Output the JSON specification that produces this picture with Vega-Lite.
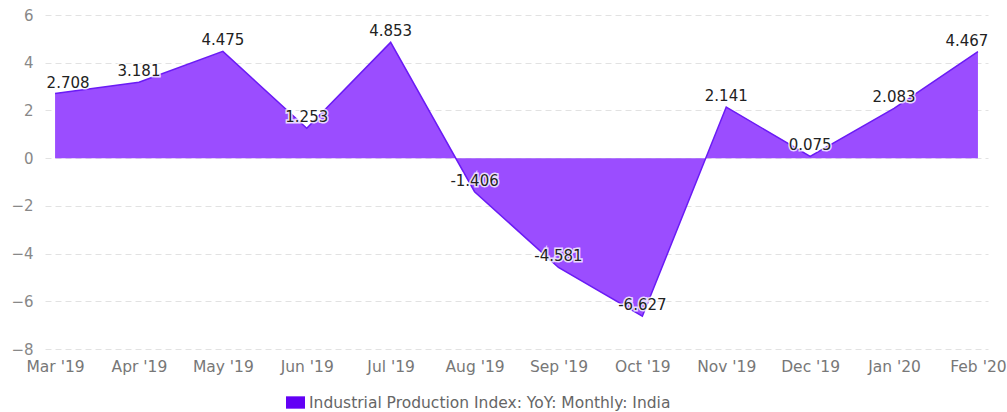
{
  "$schema": "https://vega.github.io/schema/vega-lite/v6.json",
  "width": 943,
  "height": 334,
  "autosize": {"type": "none"},
  "padding": {"left": 45, "top": 15, "right": 19, "bottom": 63},
  "background": "white",
  "config": {"view": {"stroke": null}, "font": "DejaVu Sans"},
  "data": {
    "values": [
      {"month": "Mar '19", "v": 2.708},
      {"month": "Apr '19", "v": 3.181},
      {"month": "May '19", "v": 4.475},
      {"month": "Jun '19", "v": 1.253},
      {"month": "Jul '19", "v": 4.853},
      {"month": "Aug '19", "v": -1.406},
      {"month": "Sep '19", "v": -4.581},
      {"month": "Oct '19", "v": -6.627},
      {"month": "Nov '19", "v": 2.141},
      {"month": "Dec '19", "v": 0.075},
      {"month": "Jan '20", "v": 2.083},
      {"month": "Feb '20", "v": 4.467}
    ]
  },
  "encoding": {
    "x": {
      "field": "month",
      "type": "ordinal",
      "sort": null,
      "scale": {"type": "point", "padding": 0.12},
      "axis": {
        "title": null,
        "labelAngle": 0,
        "domain": false,
        "ticks": false,
        "grid": false,
        "labelColor": "#777777",
        "labelFontSize": 15.5,
        "labelPadding": 10
      }
    }
  },
  "layer": [
    {
      "mark": {"type": "area", "opacity": 1, "fill": "#9b4dff"},
      "encoding": {
        "y": {
          "field": "v",
          "type": "quantitative",
          "scale": {"domain": [-8, 6], "nice": false, "zero": false},
          "axis": {
            "title": null,
            "values": [-8, -6, -4, -2, 0, 2, 4, 6],
            "domain": false,
            "ticks": false,
            "labelColor": "#888888",
            "labelFontSize": 15,
            "labelPadding": 12,
            "gridColor": "#e2e2e2",
            "gridDash": [6, 4],
            "gridWidth": 1
          }
        },
        "y2": {"datum": 0},
        "color": {
          "datum": "Industrial Production Index: YoY: Monthly: India",
          "scale": {"range": ["#6200f5"]},
          "legend": {
            "title": null,
            "orient": "none",
            "legendX": 241,
            "legendY": 378,
            "padding": 0,
            "labelLimit": 0,
            "symbolType": "M-1,-0.65H1V0.65H-1Z",
            "symbolSize": 361,
            "labelFontSize": 15.5,
            "labelColor": "#666666",
            "symbolStrokeWidth": 0,
            "symbolFillColor": "#6200f5",
            "symbolOpacity": 1
          }
        }
      }
    },
    {
      "mark": {"type": "line", "color": "#6a1bf5", "strokeWidth": 1.5},
      "encoding": {"y": {"field": "v", "type": "quantitative"}}
    },
    {
      "mark": {
        "type": "text",
        "fontSize": 15,
        "baseline": "alphabetic",
        "dy": -6,
        "dx": {"expr": "datum.month === \"Mar '19\" ? 13 : datum.month === \"Feb '20\" ? -11 : 0"},
        "text": {"expr": "replace(format(datum.v, '.3f'), '\u2212', '-')"},
        "stroke": "white",
        "strokeWidth": 3,
        "strokeOpacity": 0.8,
        "fill": "white"
      },
      "encoding": {
        "y": {"field": "v", "type": "quantitative"}
      }
    },
    {
      "mark": {
        "type": "text",
        "fontSize": 15,
        "baseline": "alphabetic",
        "dy": -6,
        "dx": {"expr": "datum.month === \"Mar '19\" ? 13 : datum.month === \"Feb '20\" ? -11 : 0"},
        "text": {"expr": "replace(format(datum.v, '.3f'), '\u2212', '-')"},
        "color": "#222222"
      },
      "encoding": {
        "y": {"field": "v", "type": "quantitative"}
      }
    }
  ]
}
